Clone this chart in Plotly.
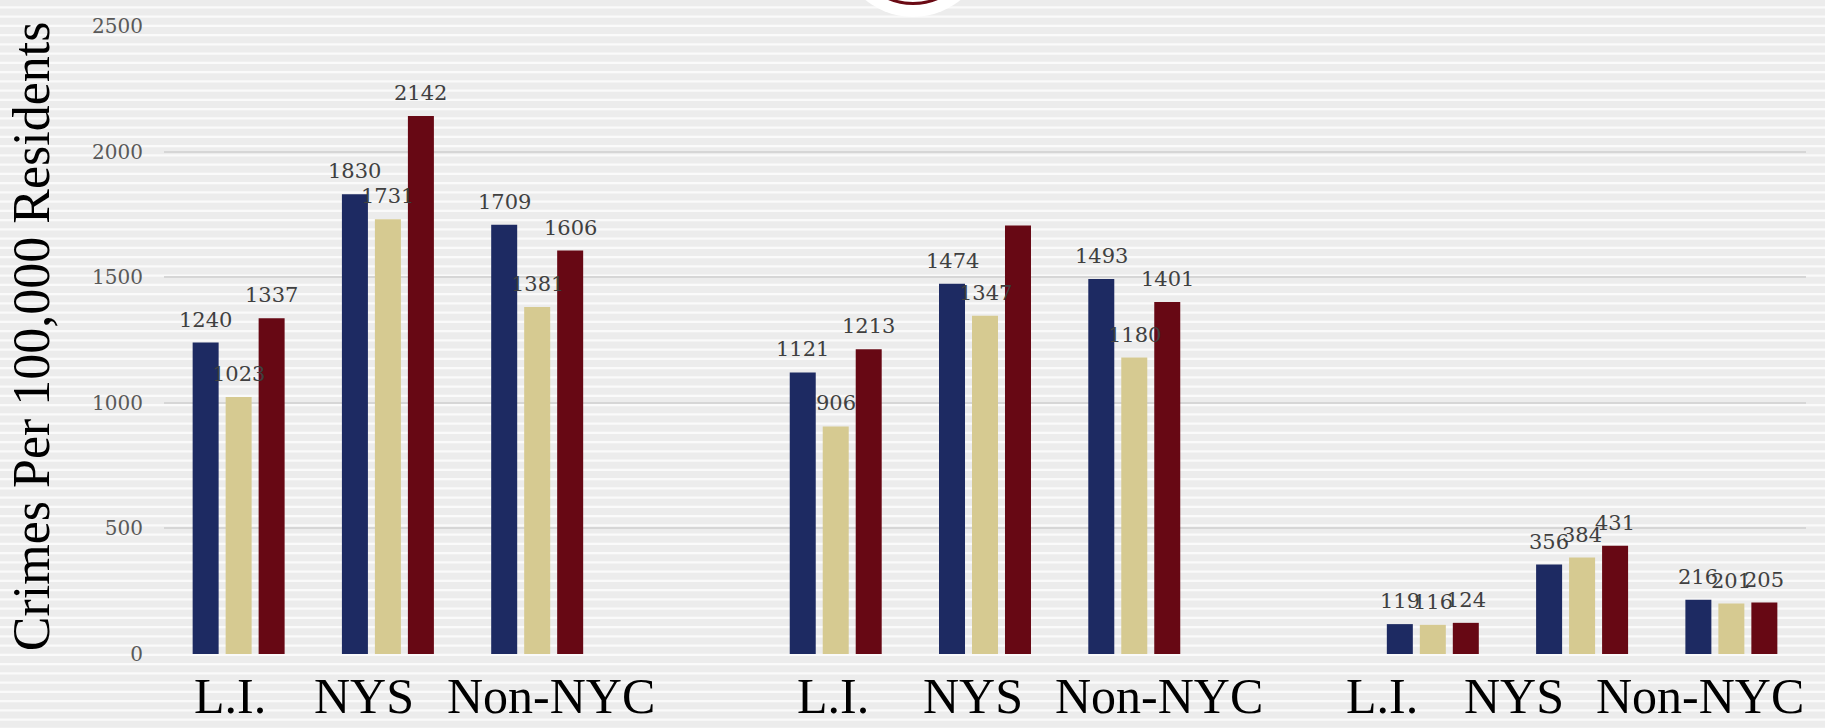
import plotly.graph_objects as go

# ---- data ----
regions = ["L.I.", "NYS", "Non-NYC"]
crime_groups = ["Group A", "Group B", "Group C"]
series_names = ["Series 1", "Series 2", "Series 3"]
navy_vals = [1240, 1830, 1709, 1121, 1474, 1493, 119, 356, 216]
tan_vals = [1023, 1731, 1381, 906, 1347, 1180, 116, 384, 201]
maroon_vals = [1337, 2142, 1606, 1213, 1706, 1401, 124, 431, 205]
navy_labels = [str(v) for v in navy_vals]
tan_labels = [str(v) for v in tan_vals]
maroon_labels = [str(v) for v in maroon_vals]
maroon_labels[4] = ""  # label not shown in the reference
y_ticks = [0, 500, 1000, 1500, 2000, 2500]
y_title = "Crimes Per 100,000 Residents"

# ---- styling ----
colors = ["#1d2a62", "#d6ca91", "#670814"]
W, H = 1825, 728
ML, MR, MT, MB = 164, 19, 26, 74
PW, PH = W - ML - MR, H - MT - MB
BARGAP, BARGROUPGAP = 0.337, 0.212
NUM_FONT = "DejaVu Serif"
TXT_FONT = "Liberation Serif"

n_reg = len(regions)
x_pos = [g * (n_reg + 1) + r for g in range(len(crime_groups)) for r in range(n_reg)]
x_text = [regions[r] for g in range(len(crime_groups)) for r in range(n_reg)]

fig = go.Figure()
all_vals = [navy_vals, tan_vals, maroon_vals]
all_labels = [navy_labels, tan_labels, maroon_labels]
for name, vals, col in zip(series_names, all_vals, colors):
    fig.add_trace(go.Bar(x=x_pos, y=vals, name=name, marker_color=col,
                         marker_line_width=0, hovertext=x_text))

annotations = []
sub_w = (1 - BARGAP) / len(all_vals)
for j, (vals, labs) in enumerate(zip(all_vals, all_labels)):
    off = (j - (len(all_vals) - 1) / 2) * sub_w
    for xp, v, t in zip(x_pos, vals, labs):
        if not t:
            continue
        annotations.append(dict(x=xp + off, y=v, xref="x", yref="y", text=t,
                                showarrow=False, yanchor="bottom", xanchor="center",
                                yshift=9, font=dict(family=NUM_FONT, size=21, color="#404040")))

# category labels (offsets as in the reference layout)
label_shift = [-9, -24, 14, -3, -12, 25, -51, -68, -31]
for xp, t, s in zip(x_pos, x_text, label_shift):
    annotations.append(dict(x=xp, y=0, xref="x", yref="paper", text=t, showarrow=False,
                            xanchor="center", yanchor="top", xshift=s, yshift=-12,
                            font=dict(family=TXT_FONT, size=50, color="#000000")))

annotations.append(dict(x=(31 - ML) / PW, y=0.506, xref="paper", yref="paper", text=y_title,
                        showarrow=False, textangle=-90, xanchor="center", yanchor="middle",
                        font=dict(family=TXT_FONT, size=52, color="#000000")))

def py(px):
    return (H - MB - px) / PH

def pxx(px):
    return (px - ML) / PW

shapes = []
# striped background
k = 0
while 6.2 + 9.25 * k < H + 5:
    y0 = 6.2 + 9.25 * k
    shapes.append(dict(type="rect", xref="paper", yref="paper", x0=pxx(0), x1=pxx(W),
                       y0=py(y0 + 2.4), y1=py(y0), fillcolor="#fafafa", line_width=0,
                       layer="below"))
    k += 1
# logo circle at the top
shapes.append(dict(type="circle", xref="paper", yref="paper", x0=pxx(838), x1=pxx(988),
                   y0=py(17), y1=py(-133), fillcolor="#ffffff", line_width=0, layer="above"))
shapes.append(dict(type="circle", xref="paper", yref="paper", x0=pxx(852), x1=pxx(974),
                   y0=py(3.5), y1=py(-118.5), fillcolor="rgba(0,0,0,0)",
                   line=dict(color="#6a0a14", width=3), layer="above"))

fig.update_layout(
    width=W, height=H,
    margin=dict(l=ML, r=MR, t=MT, b=MB, pad=0),
    paper_bgcolor="#ececec", plot_bgcolor="rgba(0,0,0,0)",
    barmode="group", bargap=BARGAP, bargroupgap=BARGROUPGAP,
    showlegend=False,
    annotations=annotations, shapes=shapes,
    xaxis=dict(type="linear", range=[-0.5, x_pos[-1] + 0.5], showgrid=False,
               showticklabels=False, zeroline=False, showline=False, ticks=""),
    yaxis=dict(range=[0, 2500], tickvals=y_ticks, showgrid=True, gridcolor="#d6d6d6",
               gridwidth=2, zeroline=False, showline=False, ticks="",
               ticklabelstandoff=20,
               tickfont=dict(family=NUM_FONT, size=20, color="#595959")),
)
fig.write_html("out.html", config={"displayModeBar": False},
               post_script="document.body.style.margin='0';")
